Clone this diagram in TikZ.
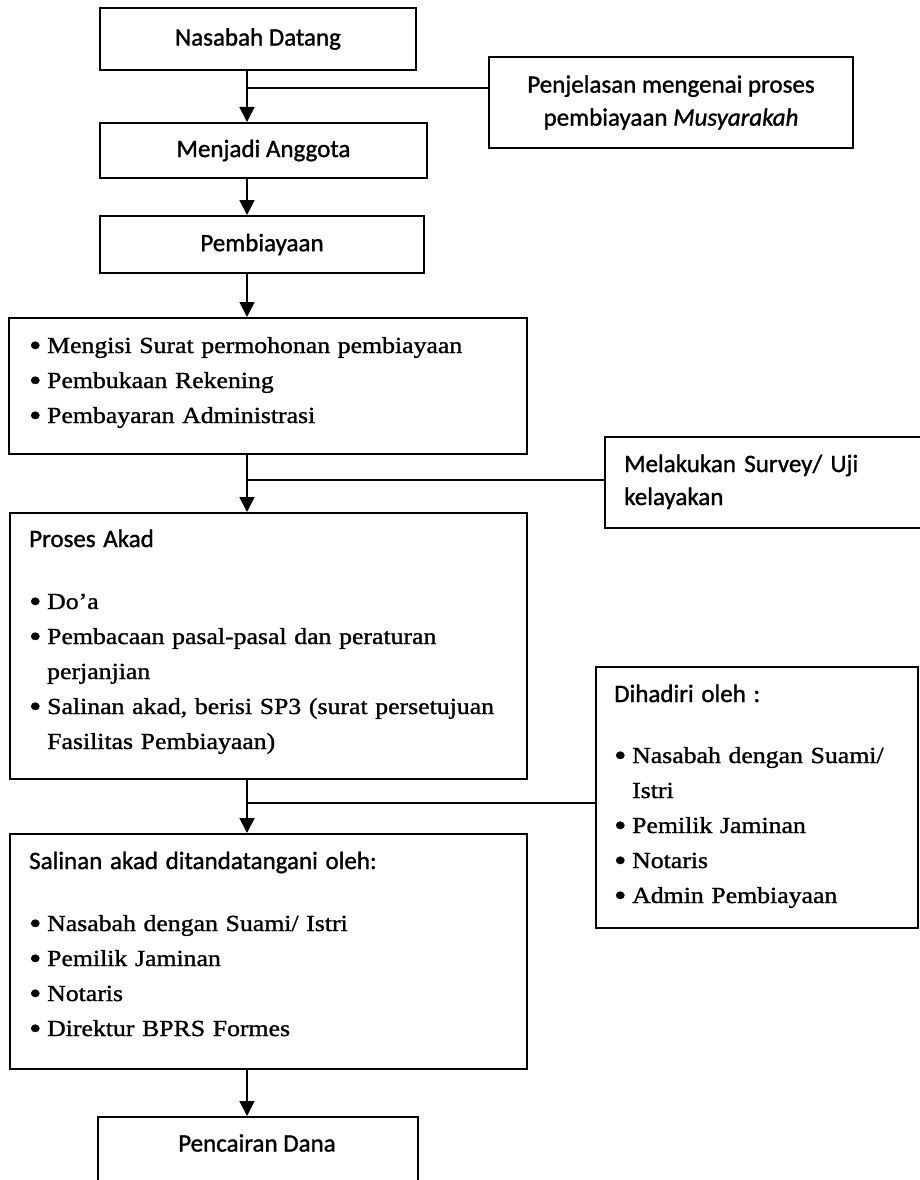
\documentclass[tikz,border=0pt]{standalone}
\usepackage{fontspec}
\setmainfont{Liberation Serif}[FakeStretch=1.12, FakeBold=1.2]
\newfontfamily\headfont{Carlito}[FakeBold=1.2]
\usetikzlibrary{arrows.meta,calc}
\newcommand\bul{\makebox[18pt][l]{\raisebox{-2.6pt}{\scalebox{1.35}{\textbullet}}}}
\newcommand\cont{\hspace*{18pt}}
\newcommand\headtext[1]{{\headfont\fontsize{25}{35}\selectfont #1}}

\tikzset{
	box/.style={draw, line width=2pt, inner sep=0pt},
	flow/.style={line width=1.8pt, -{Triangle[width=15pt,length=15pt]}},
	link/.style={line width=1.8pt},
	head/.style={font=\headfont\fontsize{25}{33}\selectfont},
	body/.style={font=\fontsize{23}{35}\selectfont, align=left, text width=500pt, inner sep=0pt, anchor=base west}
}

\begin{document}
\begin{tikzpicture}[x=1pt, y=-1pt]
				\useasboundingbox (0, 0) rectangle (919, 1180);
				\fill[white] (0, 0) rectangle (919, 1180);
				
				\node[box, head, minimum width=316pt, minimum height=62pt] (datang) at (258, 39) {Nasabah Datang};
				\node[box, head, align=center, minimum width=364pt, minimum height=91pt] (penjelasan) at (671, 102.5) {Penjelasan mengenai proses\\ pembiayaan \textit{Musyarakah}};
				\node[box, head, minimum width=327pt, minimum height=55pt] (anggota) at (263.5, 150.5) {Menjadi Anggota};
				\node[box, head, minimum width=324pt, minimum height=57pt] (pembiayaan) at (262, 244.5) {Pembiayaan};
				
				\node[box, anchor=north west, minimum width=518pt, minimum height=136pt] (syarat) at (8, 317) {};
				\node[body] (syarattext) at (29, 353) {\bul Mengisi Surat permohonan pembiayaan\\ \bul Pembukaan Rekening\\ \bul Pembayaran Administrasi};
				
				\node[box, anchor=north west, minimum width=330pt, minimum height=91pt] (survey) at (604, 436) {};
				\node[body, font=\headfont\fontsize{25}{33}\selectfont] (surveytext) at (624, 472) {Melakukan Survey/ Uji\\ kelayakan};
				
				\node[box, anchor=north west, minimum width=517pt, minimum height=266pt] (akad) at (9, 512) {};
				\node[body] (akadtext) at (29, 547) {\headtext{Proses Akad}\\[27pt] \bul Do’a\\ \bul Pembacaan pasal-pasal dan peraturan\\ \cont perjanjian\\ \bul Salinan akad, berisi SP3 (surat persetujuan\\ \cont Fasilitas Pembiayaan)};
				
				\node[box, anchor=north west, minimum width=322pt, minimum height=261pt] (dihadiri) at (595, 666) {};
				\node[body] (dihadiritext) at (614, 702) {\headtext{Dihadiri oleh :}\\[26pt] \bul Nasabah dengan Suami/\\ \cont Istri\\ \bul Pemilik Jaminan\\ \bul Notaris\\ \bul Admin Pembiayaan};
				
				\node[box, anchor=north west, minimum width=517pt, minimum height=235pt] (salinan) at (9, 833) {};
				\node[body] (salinantext) at (29, 869) {\headtext{Salinan akad ditandatangani oleh:}\\[27pt] \bul Nasabah dengan Suami/ Istri\\ \bul Pemilik Jaminan\\ \bul Notaris\\ \bul Direktur BPRS Formes};
				
				\node[box, anchor=north west, minimum width=320pt, minimum height=90pt] (pencairan) at (97, 1116) {};
				\node[head] (pencairantext) at (257, 1143) {Pencairan Dana};
				
				\coordinate (j1) at (247, 88);
				\draw[flow] (datang.south -| j1) -- (anggota.north -| j1);
				\draw[link] (penjelasan.west |- j1) -- (j1);
				\draw[flow] (anggota.south -| j1) -- (pembiayaan.north -| j1);
				\draw[flow] (pembiayaan.south -| j1) -- (syarat.north -| j1);
				
				\coordinate (j2) at (247, 480);
				\draw[flow] (syarat.south -| j2) -- (akad.north -| j2);
				\draw[link] (survey.west |- j2) -- (j2);
				
				\coordinate (j3) at (247, 803);
				\draw[flow] (akad.south -| j3) -- (salinan.north -| j3);
				\draw[link] (dihadiri.west |- j3) -- (j3);
				\draw[flow] (salinan.south -| j3) -- (pencairan.north -| j3);
			\end{tikzpicture}
\end{document}
